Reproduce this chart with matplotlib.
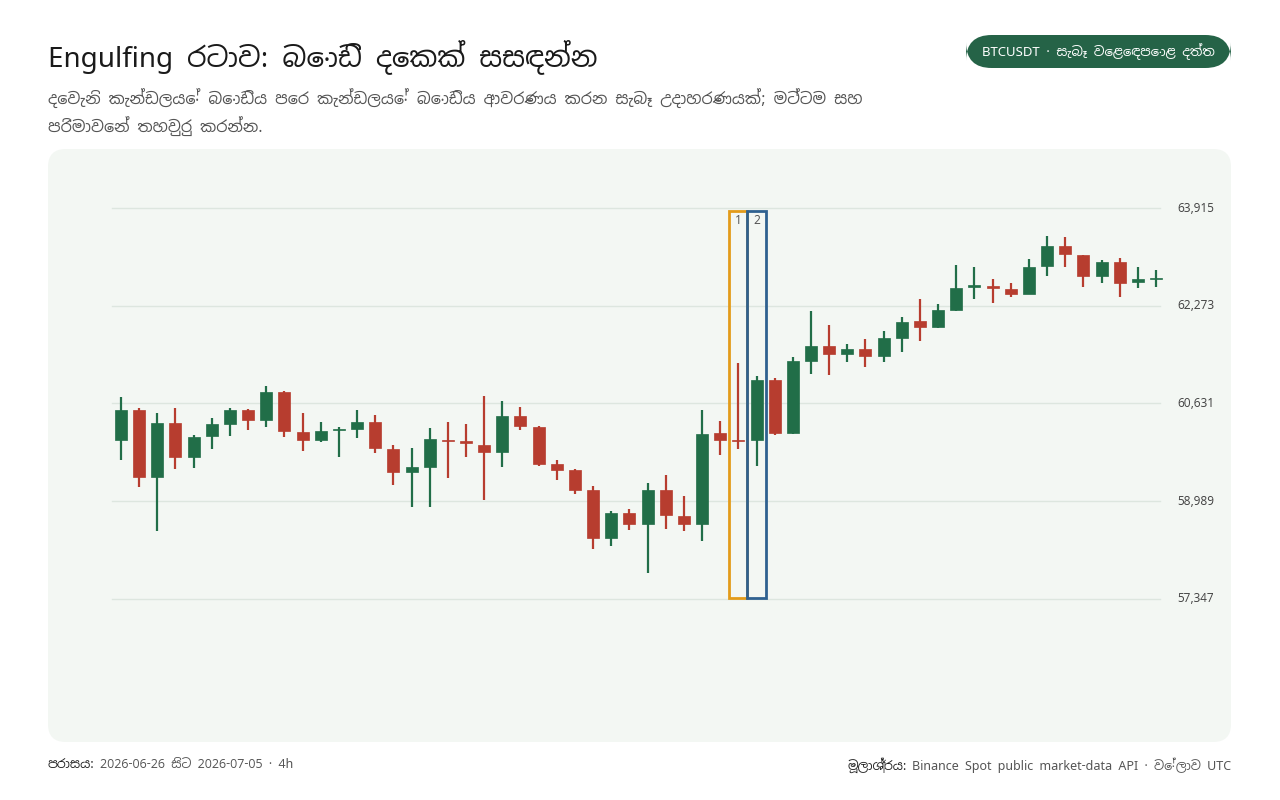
import matplotlib
matplotlib.use("Agg")
import matplotlib.pyplot as plt
from matplotlib.patches import FancyBboxPatch, Rectangle

FAM = ['Noto Sans Sinhala', 'Noto Sans', 'DejaVu Sans']
plt.rcParams['font.family'] = FAM

opens = [60017,60521,59395,60303,59731,60084,60286,60521,60353,60824,60151,60017,60185,60202,60319,59866,59479,59563,60017,60000,59933,59815,60420,60235,59614,59513,59177,58371,58791,58606,59177,58740,58606,60135,60017,60017,61025,60135,61344,61596,61462,61546,61428,61731,62016,61915,62201,62588,62604,62554,62470,62940,63276,63125,62772,63007,62671,62722]
closes = [60521,59395,60303,59731,60067,60286,60521,60353,60824,60168,60017,60168,60202,60319,59883,59479,59563,60034,60000,59967,59815,60420,60252,59614,59513,59177,58371,58791,58606,59177,58757,58606,60118,60017,60000,61025,60135,61344,61596,61462,61546,61428,61731,61999,61915,62201,62571,62604,62571,62470,62924,63276,63142,62772,63007,62654,62722,62739]
highs = [60739,60555,60471,60555,60101,60387,60555,60538,60924,60840,60471,60319,60235,60521,60437,59933,59883,60219,60319,60286,60756,60672,60571,60252,59681,59530,59244,58824,58858,59295,59429,59076,60521,60336,61311,61092,61059,61411,62184,61949,61630,61714,61848,62083,62386,62302,62957,62924,62722,62654,63058,63444,63427,63125,63041,63075,62924,62873]
lows = [59681,59227,58489,59530,59547,59866,60084,60185,60235,60067,59832,59983,59731,60050,59799,59261,58891,58891,59379,59731,59009,59563,60185,59580,59345,59110,58187,58237,58505,57783,58522,58489,58321,59765,59866,59580,60101,60118,61126,61109,61328,61244,61328,61496,61680,61898,62184,62386,62319,62420,62470,62772,62924,62588,62654,62420,62571,62588]
ticks = [57347, 58989, 60631, 62273, 63915]
pattern_idx = [34, 35]

GREEN = '#216e48'
RED = '#b73d2f'

fig = plt.figure(figsize=(12.8, 8), dpi=100)
fig.patch.set_facecolor('white')

panel = [48/1280, 1-742/800, (1231-48)/1280, (742-149)/800]
bg = fig.add_axes(panel, zorder=0)
bg.set_axis_off()
bg.add_patch(FancyBboxPatch((0, 0), 1, 1, boxstyle="round,pad=0,rounding_size=0.015",
                            mutation_aspect=2.0, transform=bg.transAxes,
                            facecolor='#f3f7f3', edgecolor='none'))

ax = fig.add_axes(panel, zorder=1)
ax.set_facecolor('none')
step = 16.8
ax.set_ylim(63915 - (742-208)*step, 63915 + (208-149)*step)
ax.set_xlim(-73/18.16, 57 + 75/18.16)
for s in ax.spines.values():
    s.set_visible(False)
ax.set_xticks([]); ax.set_yticks([])

for t in ticks:
    ax.plot([-0.5, 57.2], [t, t], color='#dde6df', lw=1, zorder=1)
    ax.text(58.2, t, f"{t:,}", fontsize=8.5, color='#444444', va='center', ha='left')

w = 0.66
for i, (o, c, h, l) in enumerate(zip(opens, closes, highs, lows)):
    col = GREEN if c >= o else RED
    ax.plot([i, i], [l, h], color=col, lw=1.6, zorder=2, solid_capstyle='butt')
    lo, hi = min(o, c), max(o, c)
    hgt = max(hi - lo, 25)
    ax.add_patch(Rectangle((i - w/2, lo), w, hgt, facecolor=col, edgecolor=col, lw=0.5, zorder=3))

box_cols = ['#e39b1a', '#2f6190']
for k, (idx, bc) in enumerate(zip(pattern_idx, box_cols)):
    ax.add_patch(Rectangle((idx - 0.5, 57364), 1.0, 63865 - 57364,
                           facecolor='none', edgecolor=bc, lw=2, zorder=4))
    ax.text(idx, 63700, str(k + 1), ha='center', va='center', fontsize=8.5, color='#555555', zorder=5)

fig.text(48/1280, 1-57/800, "Engulfing රටාව: බොඩි දෙකක් සසඳන්න", fontsize=20, fontweight='bold',
         color='#1a1a1a', va='center', ha='left')
fig.text(48/1280, 1-112/800,
         "දෙවැනි කැන්ඩලයේ බොඩිය පෙර කැන්ඩලයේ බොඩිය ආවරණය කරන සැබෑ උදාහරණයක්; මට්ටම සහ\nපරිමාවෙන් තහවුරු කරන්න.",
         fontsize=11.5, color='#555555', va='center', ha='left', linespacing=1.5)

fig.patches.append(FancyBboxPatch((966/1280, 1-68/800), (1231-966)/1280, 33/800,
                                  boxstyle="round,pad=0,rounding_size=0.02", mutation_aspect=1.6,
                                  transform=fig.transFigure, facecolor='#256347', edgecolor='none'))
fig.text(1098/1280, 1-52/800, "BTCUSDT · සැබෑ වෙළෙඳපොළ දත්ත", fontsize=9.5, fontweight='bold',
         color='white', ha='center', va='center')

# footer
fy = 1-765/800
renderer = fig.canvas.get_renderer()
lab1 = fig.text(48/1280, fy, "පරාසය:", fontsize=9, fontweight='bold', color='#222222', va='center')
x1 = lab1.get_window_extent(renderer).x1 / 1280 + 5/1280
fig.text(x1, fy, "2026-06-26 සිට 2026-07-05 · 4h", fontsize=9, color='#555555', va='center')
val2 = fig.text(1231/1280, fy, "Binance Spot public market-data API · වේලාව UTC", fontsize=9,
                color='#555555', va='center', ha='right')
x2 = val2.get_window_extent(renderer).x0 / 1280 - 5/1280
fig.text(x2, fy, "මූලාශ්‍රය:", fontsize=9, fontweight='bold', color='#222222', va='center', ha='right')

fig.savefig('out.png', dpi=100, facecolor='white')
